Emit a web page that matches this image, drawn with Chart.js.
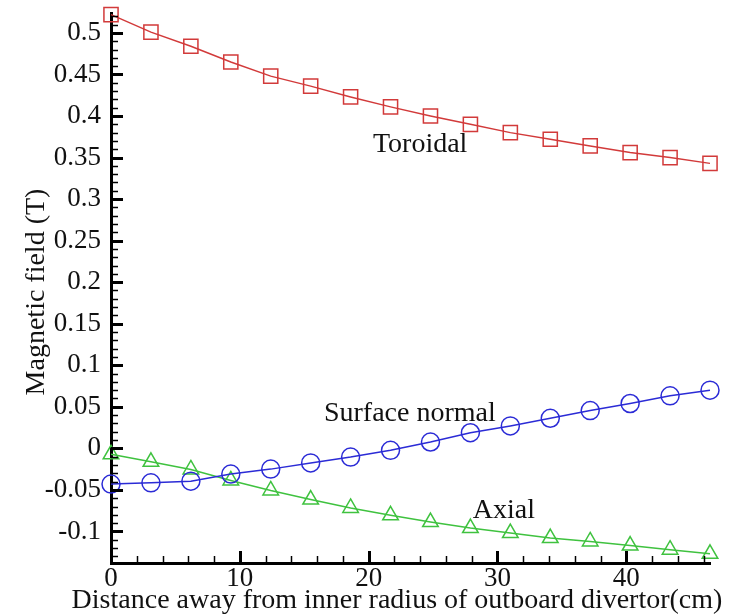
<!DOCTYPE html>
<html>
<head>
<meta charset="utf-8">
<script src="https://cdn.jsdelivr.net/npm/chart.js@4.4.1/dist/chart.umd.min.js"></script>
<style>
  html, body { margin: 0; padding: 0; background: #fff; }
  #wrap { width: 737px; height: 615px; }
</style>
</head>
<body>
<div id="wrap"><canvas id="myChart" width="737" height="615"></canvas></div>
<script>
// distance from inner radius (cm)
const distance = [0, 3.1, 6.2, 9.3, 12.4, 15.5, 18.6, 21.7, 24.8, 27.9, 31.0, 34.1, 37.2, 40.3, 43.4, 46.5];
// field components (T)
const toroidal = [0.522, 0.501, 0.484, 0.465, 0.448, 0.436, 0.423, 0.411, 0.400, 0.390, 0.380, 0.372, 0.364, 0.356, 0.350, 0.343];
const surfaceNormal = [-0.043, -0.0415, -0.0395, -0.031, -0.025, -0.0175, -0.0105, -0.0024, 0.0076, 0.0188, 0.027, 0.0362, 0.0455, 0.054, 0.0632, 0.070];
const axial = [-0.0072, -0.0162, -0.0254, -0.0386, -0.0507, -0.0616, -0.0717, -0.0806, -0.0887, -0.0959, -0.102, -0.108, -0.112, -0.117, -0.122, -0.127];

const xTicks = [0, 10, 20, 30, 40];
const yTicks = [-0.1, -0.05, 0, 0.05, 0.1, 0.15, 0.2, 0.25, 0.3, 0.35, 0.4, 0.45, 0.5];

// curve labels: [text, x (cm), y (T) of baseline]
const curveLabels = [
  ['Toroidal', 24.0, 0.357],
  ['Surface normal', 23.2, 0.033],
  ['Axial', 30.5, -0.084]
];

const serif = "'Liberation Serif', 'Times New Roman', serif";

const toPoints = ys => ys.map((y, i) => ({x: distance[i], y: y}));

// inward ticks, axis titles and curve labels
const decorations = {
  id: 'decorations',
  afterDraw(chart) {
    const ctx = chart.ctx;
    const xs = chart.scales.x, ys = chart.scales.y;
    const area = chart.chartArea;
    ctx.save();
    ctx.strokeStyle = '#000';

    // y axis ticks
    for (let v = -130; v <= 520; v += 10) {
      const py = Math.round(ys.getPixelForValue(v / 1000)) + 0.5;
      const major = v % 50 === 0;
      ctx.lineWidth = major ? 3 : 1.5;
      ctx.beginPath();
      ctx.moveTo(area.left, py);
      ctx.lineTo(area.left + (major ? 12 : 7), py);
      ctx.stroke();
    }
    // x axis ticks
    for (let v = 0; v <= 46; v += 2) {
      const px = Math.round(xs.getPixelForValue(v)) + 0.5;
      const major = v % 10 === 0;
      ctx.lineWidth = major ? 3 : 1.5;
      ctx.beginPath();
      ctx.moveTo(px, area.bottom);
      ctx.lineTo(px, area.bottom - (major ? 12 : 7));
      ctx.stroke();
    }

    ctx.fillStyle = '#111';
    ctx.font = '28px ' + serif;
    ctx.textAlign = 'center';
    ctx.textBaseline = 'alphabetic';
    ctx.fillText('Distance away from inner radius of outboard divertor(cm)', 397, 608);

    ctx.save();
    ctx.translate(44, 292);
    ctx.rotate(-Math.PI / 2);
    ctx.fillText('Magnetic field (T)', 0, 0);
    ctx.restore();

    curveLabels.forEach(([text, x, y]) => {
      ctx.fillText(text, xs.getPixelForValue(x), ys.getPixelForValue(y));
    });
    ctx.restore();
  }
};

const ctx = document.getElementById('myChart').getContext('2d');
const myChart = new Chart(ctx, {
  type: 'line',
  data: {
    datasets: [
      {
        label: 'Toroidal',
        data: toPoints(toroidal),
        borderColor: '#d23a3a',
        pointStyle: 'rect',
        pointRadius: 10
      },
      {
        label: 'Surface normal',
        data: toPoints(surfaceNormal),
        borderColor: '#2b2bd6',
        pointStyle: 'circle',
        pointRadius: 9
      },
      {
        label: 'Axial',
        data: toPoints(axial),
        borderColor: '#3fc23f',
        pointStyle: 'triangle',
        pointRadius: 9
      }
    ]
  },
  options: {
    responsive: false,
    animation: false,
    devicePixelRatio: 1,
    layout: { padding: { top: 13, right: 27, left: 0, bottom: 0 } },
    elements: {
      line: { borderWidth: 1.5, tension: 0, fill: false },
      point: { borderWidth: 1.5, backgroundColor: 'rgba(0,0,0,0)', hoverRadius: 9 }
    },
    datasets: { line: { clip: false } },
    plugins: { legend: { display: false }, tooltip: { enabled: false } },
    scales: {
      x: {
        type: 'linear',
        min: 0,
        max: 46.5,
        grid: { display: false, drawTicks: false },
        border: { display: true, color: '#000', width: 3 },
        afterBuildTicks: s => { s.ticks = xTicks.map(v => ({value: v})); },
        afterFit: s => { s.height = 52; s.paddingLeft = 0; s.paddingRight = 0; },
        ticks: {
          color: '#111',
          padding: 0,
          maxRotation: 0,
          font: { family: serif, size: 27 },
          callback: v => String(v)
        }
      },
      y: {
        type: 'linear',
        min: -0.138,
        max: 0.524,
        grid: { display: false, drawTicks: false },
        border: { display: true, color: '#000', width: 3 },
        afterBuildTicks: s => { s.ticks = yTicks.map(v => ({value: v})); },
        afterFit: s => { s.width = 111; s.paddingTop = 0; s.paddingBottom = 0; },
        ticks: {
          color: '#111',
          padding: 10,
          font: { family: serif, size: 27 },
          callback: v => String(v)
        }
      }
    }
  },
  plugins: [decorations]
});
</script>
</body>
</html>
